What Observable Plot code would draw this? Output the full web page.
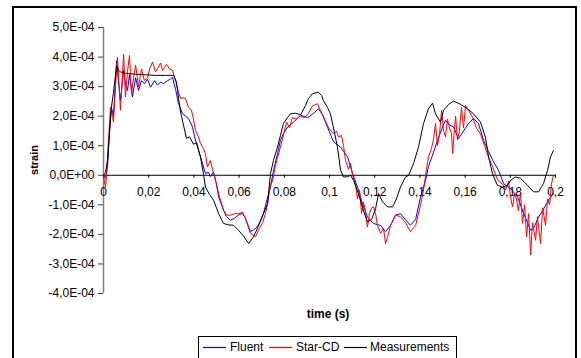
<!DOCTYPE html>
<html><head><meta charset="utf-8">
<script src="https://cdn.jsdelivr.net/npm/d3@7"></script>
<script src="https://cdn.jsdelivr.net/npm/@observablehq/plot@0.6"></script>
<style>
body{margin:0;background:#fff;font-family:"Liberation Sans",Arial,sans-serif;}
#wrap{position:relative;width:581px;height:358px;overflow:hidden;background:#fff;}
#frame{position:absolute;left:12px;top:6px;width:565px;height:370px;border:2px solid #000;box-sizing:border-box;}
#chart{position:absolute;left:0;top:0;}
.lbl{position:absolute;font-weight:bold;color:#000;white-space:nowrap;}
#ytitle{left:34px;top:160px;font-size:11px;transform:translate(-50%,-50%) rotate(-90deg);}
#xtitle{left:328px;top:314px;font-size:12px;transform:translate(-50%,-50%);}
#legend{position:absolute;left:198px;top:336px;width:259px;height:24px;border:1px solid #000;box-sizing:border-box;background:#fff;}
#legend svg{position:absolute;left:0;top:0;}
.lt{position:absolute;top:3px;font-size:12px;color:#000;white-space:nowrap;}
</style>
</head><body>
<div id="wrap">
  <div id="frame"></div>
  <div id="chart"></div>
  <div class="lbl" id="ytitle">strain</div>
  <div class="lbl" id="xtitle">time (s)</div>
  <div id="legend"></div>
</div>
<script>
// time in ms, strain in units of 1e-4
const xTicks = [0, 0.02, 0.04, 0.06, 0.08, 0.1, 0.12, 0.14, 0.16, 0.18, 0.2];
const yTicks = [-4e-4, -3e-4, -2e-4, -1e-4, 0, 1e-4, 2e-4, 3e-4, 4e-4, 5e-4];
const seriesNames = ["Fluent", "Star-CD", "Measurements"];
const seriesColors = ["#0000ff", "#ff0000", "#000000"];

const fluentT = [0,0.9,1.8,2.7,3.5,4.4,5.8,6.6,7.5,8.9,9.7,10.6,11.5,12.8,14.2,15.5,16.8,18.1,19.5,20.8,22.6,23.9,25.2,26.6,28.3,29.6,30.5,31.9,33.2,35.0,36.3,37.6,39.4,40.3,41.6,43.8,45.1,46.5,47.3,48.7,50.0,50.9,53.1,54.4,56.2,58.0,59.7,61.5,62.8,65.0,66.4,68.1,69.5,70.8,72.1,73.9,75.2,77.0,78.3,79.6,81.4,84.1,87.2,90.3,93.0,95.1,96.9,99.1,101.8,104.9,108.0,110.2,112.4,114.6,116.8,119.5,122.6,124.8,127.0,129.2,131.4,133.6,135.8,138.1,140.3,142.5,143.8,145.6,147.8,150.0,151.3,153.1,154.9,157.1,159.3,161.5,163.7,165.9,168.2,170.4,172.6,174.8,177.0,180.1,183.2,185.9,189.0,190.3,192.5,194.7,196.9,199.1];
const fluentV = [0,-0.1,0.3,1.5,2.3,2.0,3.88,3.2,2.53,3.55,3.1,2.87,3.4,2.65,3.3,2.87,3.2,3.1,3.25,2.98,3.2,3.05,3.15,3.1,3.2,3.25,3.32,2.9,2.42,2.08,2.0,1.92,1.63,1.3,0.96,0.4,0.06,0.1,-0.05,0.11,-0.3,-0.73,-1.18,-1.4,-1.52,-1.45,-1.35,-1.29,-1.45,-1.91,-1.85,-1.75,-1.55,-1.29,-0.9,-0.4,0.15,0.73,1.18,1.41,1.63,1.8,2.03,1.95,2.1,2.25,2.05,1.63,1.13,0.95,0.62,0.06,-0.4,-0.96,-1.41,-1.63,-1.7,-1.91,-1.7,-1.35,-1.3,-1.5,-1.69,-1.5,-0.73,-0.17,0.3,0.68,1.18,1.63,1.86,1.7,1.63,1.24,1.5,1.75,1.92,1.75,1.18,0.8,0.45,0.17,-0.28,-0.45,-0.73,-1.29,-1.86,-1.8,-1.41,-1.15,-0.84,-0.62];

const starT = [0,0.4,0.9,1.3,2.2,3.1,4.0,4.4,5.3,6.2,7.5,8.9,9.7,10.6,11.5,12.4,13.3,14.2,15.0,15.5,16.8,18.1,19.5,20.4,21.7,23.0,23.9,25.2,26.1,27.0,27.9,29.2,30.5,31.9,33.2,34.1,35.4,36.3,37.6,38.9,39.8,40.7,42.0,42.9,44.2,45.1,46.0,47.3,48.7,50.0,50.9,53.1,54.4,56.2,58.0,59.7,61.5,62.8,65.0,67.3,68.6,70.4,71.7,72.6,73.9,74.8,75.7,77.0,78.3,79.6,81.0,82.3,83.6,85.4,87.2,88.9,90.7,92.5,94.7,96.0,97.8,99.6,101.8,103.1,104.0,105.3,106.2,107.1,108.4,109.3,110.2,111.5,112.4,113.3,114.2,115.0,115.9,116.8,117.7,118.6,119.5,120.4,121.2,122.6,123.9,124.8,125.7,127.0,129.2,131.4,133.6,135.8,138.1,140.3,141.6,142.9,143.8,145.1,146.0,146.9,147.8,148.7,149.6,150.5,151.3,152.2,153.1,154.0,154.5,155.3,155.8,156.6,157.5,158.4,159.3,160.2,161.5,163.3,165.0,166.8,168.6,170.4,172.1,173.5,174.8,176.6,177.9,179.2,180.1,181.0,181.9,182.7,183.6,184.5,185.4,186.3,187.2,188.1,189.0,189.8,191.2,192.0,193.4,194.3,195.6,196.5,197.4,198.2,199.1];
const starV = [0,-0.2,-0.4,0,1.2,2.3,2.0,1.8,3.0,4.0,2.2,4.09,2.65,3.5,4.05,2.75,3.3,3.72,3.3,3.0,3.6,3.2,3.3,3.6,3.83,3.5,3.6,3.8,3.55,3.65,3.75,3.6,3.55,3.2,2.8,2.6,2.62,2.6,2.3,2.2,1.9,1.52,1.3,1.08,0.9,0.73,0.28,0.5,0.06,-0.3,-0.62,-1.18,-1.35,-1.35,-1.3,-1.3,-1.25,-1.45,-1.97,-2.08,-1.85,-1.6,-1.29,-0.95,-0.3,-0.2,0.2,0.6,0.96,1.35,1.8,1.6,1.95,1.9,2.0,1.95,2.1,2.35,2.42,2.2,1.9,1.6,1.4,1.5,1.29,1.35,1.0,0.5,0.2,0.4,0.0,-0.3,-0.8,-0.5,-1.29,-0.9,-1.2,-1.75,-1.3,-1.1,-1.07,-1.3,-1.7,-1.97,-1.8,-2.31,-2.1,-1.7,-1.35,-1.4,-1.6,-1.91,-1.7,-1.0,-0.5,0.2,0.62,0.9,1.2,1.75,1.0,1.4,2.2,1.5,1.3,1.9,1.6,1.4,0.73,1.6,2.0,1.2,1.5,2.3,1.6,2.36,2.2,1.97,1.6,1.4,1.0,0.6,0.3,0.0,-0.2,-0.3,-0.5,-0.2,-0.73,-1.07,-0.6,-0.8,-1.2,-0.6,-1.63,-1.0,-2.08,-1.3,-2.7,-1.6,-2.2,-1.4,-2.31,-1.1,-1.7,-0.8,-1.0,-0.3,0];

const measT = [0,0.9,1.8,2.7,3.5,4.4,5.8,6.6,7.5,9.7,14.2,18.6,23.0,27.4,31.0,32.3,33.2,34.1,35.4,36.7,38.1,39.8,41.2,42.9,44.2,45.1,46.9,48.7,50.9,53.1,55.3,57.5,59.7,61.9,64.2,66.4,68.1,69.5,70.8,72.6,73.9,75.2,77.0,78.3,79.6,81.4,82.7,85.0,87.2,89.4,90.7,92.5,95.1,96.5,97.3,99.1,100.4,101.8,103.5,104.9,106.2,108.0,109.3,110.6,112.8,115.0,116.8,118.6,120.4,121.7,123.5,125.7,127.9,129.6,131.4,133.6,135.0,137.2,139.4,141.6,143.8,145.6,146.9,149.1,150.5,152.7,154.9,158.0,161.1,163.7,166.8,169.0,170.4,172.1,174.3,176.6,178.8,180.1,182.3,184.5,187.6,190.3,192.5,194.7,196.5,197.8,199.1];
const measV = [0,0.1,0.5,1.5,2.3,2.8,3.7,3.55,3.5,3.45,3.42,3.4,3.38,3.38,3.38,3.15,2.6,2.14,1.7,1.25,1.3,1.05,1.1,0.62,0.06,-0.4,-0.65,-0.84,-1.29,-1.63,-1.68,-1.69,-1.86,-2.05,-2.31,-2.08,-1.8,-1.52,-1.3,-0.96,0.06,0.5,0.96,1.35,1.75,1.95,2.08,2.1,2.05,2.36,2.6,2.76,2.81,2.7,2.53,2.3,2.08,1.6,0.96,0.17,-0.06,-0.05,0,-0.17,-0.62,-1.18,-1.58,-1.5,-1.13,-0.62,-0.9,-1.07,-1.07,-0.8,-0.4,-0.06,0,0.4,0.96,1.75,2.25,2.44,2.08,1.8,2.2,2.4,2.51,2.4,2.25,2.08,1.8,1.29,0.62,0.06,-0.34,-0.4,-0.34,-0.17,-0.06,-0.1,-0.34,-0.56,-0.56,-0.28,0.17,0.62,0.84];

const toRows = (T, V) => T.map((t, i) => ({t: t / 1000, v: V[i] * 1e-4}));
const fluent = toRows(fluentT, fluentV);
const star = toRows(starT, starV);
const meas = toRows(measT, measV);

const xFmt = d => d === 0 ? "0" : String(+d.toFixed(2)).replace(".", ",");
const yFmt = d => {
  const m = Math.round(d * 1e5) / 10;
  if (m === 0) return "0,0E+00";
  return m.toFixed(1).replace(".", ",") + "E-04";
};

const chart = Plot.plot({
  width: 581,
  height: 358,
  marginLeft: 103,
  marginRight: 26,
  marginTop: 27,
  marginBottom: 65,
  x: {domain: [0, 0.2], axis: null},
  y: {domain: [-4e-4, 5e-4], label: null},
  style: {background: "transparent", fontFamily: "Liberation Sans, Arial, sans-serif", fontSize: "12px", color: "#000"},
  marks: [
    Plot.ruleX([0], {stroke: "#808080", strokeWidth: 1.5}),
    Plot.axisY(yTicks, {tickSize: 5, tickPadding: 4, tickFormat: yFmt, fontSize: 12, stroke: "#404040", label: null}),
    Plot.ruleY([0], {stroke: "#000", strokeWidth: 1}),
    Plot.ruleX(xTicks, {y1: 0, y2: -1e-5, stroke: "#000"}),
    Plot.text(xTicks, {x: d => d, y: 0, dy: 17, text: xFmt, fontSize: 12, fill: "#000"}),
    Plot.line(fluent, {x: "t", y: "v", stroke: seriesColors[0], strokeWidth: 1}),
    Plot.line(star, {x: "t", y: "v", stroke: seriesColors[1], strokeWidth: 1}),
    Plot.line(meas, {x: "t", y: "v", stroke: seriesColors[2], strokeWidth: 1})
  ]
});
document.getElementById("chart").appendChild(chart);

// legend
const legDiv = d3.select("#legend");
const legSvg = legDiv.append("svg").attr("width", 257).attr("height", 22);
const swX = [4, 70, 145];
const txX = [31, 97, 171];
seriesNames.forEach((n, i) => {
  legSvg.append("line")
    .attr("x1", swX[i]).attr("x2", swX[i] + 23)
    .attr("y1", 10.5).attr("y2", 10.5)
    .attr("stroke", seriesColors[i]).attr("stroke-width", 1.2);
  legDiv.append("div").attr("class", "lt").style("left", txX[i] + "px").text(n);
});
</script>
</body></html>
